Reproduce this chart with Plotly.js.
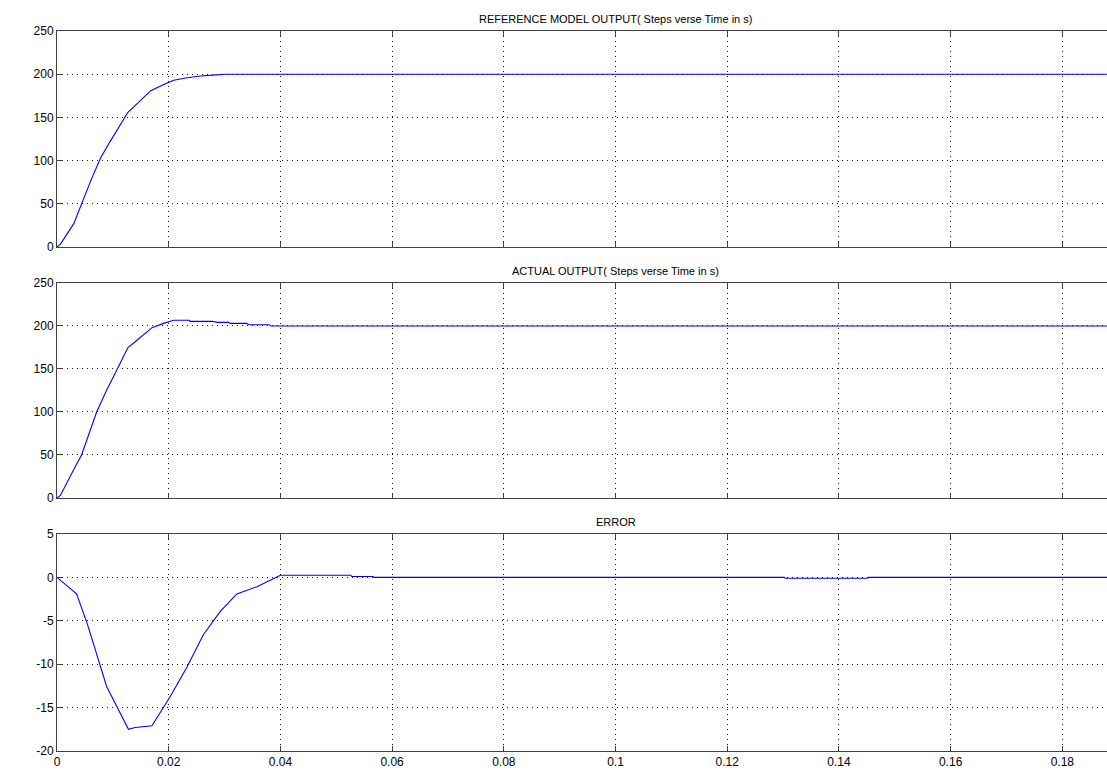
<!DOCTYPE html>
<html>
<head>
<meta charset="utf-8">
<script src="https://cdn.plot.ly/plotly-3.0.1.min.js"></script>
<style>html,body{margin:0;padding:0;background:#fff;overflow:hidden}</style>
</head>
<body>
<div id="chart" style="width:1107px;height:774px"></div>
<script>
// Reference model output
const refT = [0, 0.0006, 0.003, 0.0044, 0.006, 0.0078, 0.0095, 0.0127, 0.0146, 0.0168, 0.0191, 0.0209, 0.0233, 0.0257, 0.0292, 0.0300, 0.2];
const refY = [0, 3, 27, 50, 76, 103, 122, 156, 168, 181, 188, 193, 196, 198, 199.5, 200, 200];

// Actual output
const actT = [0, 0.0006, 0.003, 0.0044, 0.0071, 0.0089, 0.0107, 0.0127, 0.014, 0.017, 0.0191, 0.0209, 0.0236, 0.0239, 0.0278, 0.0287, 0.0307, 0.031, 0.034, 0.0343, 0.038, 0.0383, 0.2];
const actY = [0, 3, 33, 50, 100, 125.6, 148.8, 175, 181.7, 198, 203, 206.6, 206.6, 205.4, 205.4, 204.2, 204.2, 203, 203, 201.5, 201.5, 200, 200];

// Error
const errT = [0, 0.0035, 0.0054, 0.0089, 0.0128, 0.014, 0.017, 0.0203, 0.0233, 0.0262, 0.0292, 0.0322, 0.0358, 0.04, 0.0526, 0.0528, 0.0566, 0.0568, 0.1302, 0.1304, 0.1451, 0.1453, 0.2];
const errY = [0, -1.9, -5.3, -12.6, -17.5, -17.3, -17.1, -13.7, -10.3, -6.6, -3.95, -1.9, -1.07, 0.24, 0.24, 0.1, 0.1, 0, 0, -0.1, -0.1, 0, 0];

const titles = ["REFERENCE MODEL OUTPUT( Steps verse Time in s)", "ACTUAL OUTPUT( Steps verse Time in s)", "ERROR"];
const xTickVals = [0, 0.02, 0.04, 0.06, 0.08, 0.1, 0.12, 0.14, 0.16, 0.18];
const xTickText = ["0", "0.02", "0.04", "0.06", "0.08", "0.1", "0.12", "0.14", "0.16", "0.18"];
const outTickVals = [0, 50, 100, 150, 200, 250];
const outTickText = ["0", "50", "100", "150", "200", "250"];
const errTickVals = [-20, -15, -10, -5, 0, 5];
const errTickText = ["-20", "-15", "-10", "-5", "0", "5"];

const lineStyle = {color: '#0000ff', width: 1.1};
const traces = [
  {x: refT, y: refY, type: 'scatter', mode: 'lines', line: lineStyle, xaxis: 'x', yaxis: 'y'},
  {x: actT, y: actY, type: 'scatter', mode: 'lines', line: lineStyle, xaxis: 'x2', yaxis: 'y2'},
  {x: errT, y: errY, type: 'scatter', mode: 'lines', line: lineStyle, xaxis: 'x3', yaxis: 'y3'}
];

const fontFam = 'Liberation Sans, Arial, sans-serif';
const axisCol = '#404040';
const gridCol = '#111';
const gridDash = '1px,4px';

function xax(showLabels) {
  return {
    range: [0, 0.188], domain: [0, 1],
    tickvals: xTickVals, ticktext: xTickText, showticklabels: showLabels,
    ticks: 'inside', ticklen: 5, tickcolor: axisCol, tickwidth: 1,
    showline: true, linecolor: axisCol, linewidth: 1, mirror: 'ticks',
    showgrid: true, gridcolor: gridCol, griddash: gridDash, gridwidth: 1,
    zeroline: false, tickfont: {family: fontFam, size: 12, color: '#000'}
  };
}
function yax(range, vals, text, domain, anchor) {
  return {
    range: range, domain: domain, anchor: anchor,
    tickvals: vals, ticktext: text,
    ticks: 'inside', ticklen: 5, tickcolor: axisCol, tickwidth: 1,
    showline: true, linecolor: axisCol, linewidth: 1, mirror: false,
    showgrid: true, gridcolor: gridCol, griddash: gridDash, gridwidth: 1,
    zeroline: false, tickfont: {family: fontFam, size: 12, color: '#000'}
  };
}

const titleFont = {family: fontFam, size: 11, color: '#000'};
const layout = {
  width: 1107, height: 774,
  margin: {l: 57, r: 0, t: 0, b: 0},
  paper_bgcolor: '#fff', plot_bgcolor: '#fff',
  showlegend: false,
  xaxis: Object.assign(xax(false), {anchor: 'y'}),
  yaxis: yax([0, 250], outTickVals, outTickText, [0.6809, 0.9599], 'x'),
  xaxis2: Object.assign(xax(false), {anchor: 'y2'}),
  yaxis2: yax([0, 250], outTickVals, outTickText, [0.3566, 0.6344], 'x2'),
  xaxis3: Object.assign(xax(true), {anchor: 'y3'}),
  yaxis3: yax([-20, 5], errTickVals, errTickText, [0.0297, 0.3101], 'x3'),
  annotations: [
    {text: titles[0], xref: 'x', x: 0.1, yref: 'paper', y: 0.9599, yanchor: 'bottom', yshift: 4, showarrow: false, font: titleFont},
    {text: titles[1], xref: 'x2', x: 0.1, yref: 'paper', y: 0.6344, yanchor: 'bottom', yshift: 4, showarrow: false, font: titleFont},
    {text: titles[2], xref: 'x3', x: 0.1, yref: 'paper', y: 0.3101, yanchor: 'bottom', yshift: 4, showarrow: false, font: titleFont}
  ]
};

Plotly.newPlot('chart', traces, layout, {staticPlot: true, displayModeBar: false});
</script>
</body>
</html>
